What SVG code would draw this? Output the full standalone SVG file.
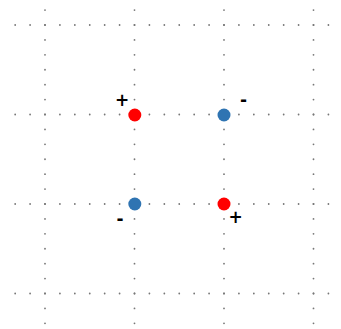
<svg xmlns="http://www.w3.org/2000/svg" width="341" height="329" viewBox="0 0 341 329">
<style>
.grid line{stroke:#777;stroke-width:1.8;stroke-linecap:round;stroke-dasharray:0 14.9167;fill:none}
.pos{fill:#ff0000}
.neg{fill:#2f74b2}
.lbl{font-family:"DejaVu Sans",sans-serif;font-size:17px;font-weight:bold;fill:#000;text-anchor:middle}
</style>
<rect width="341" height="329" fill="#fff"/>
<g id="connectors" class="grid">
<line x1="15.17" y1="25" x2="329" y2="25"/>
<line x1="15.17" y1="114.5" x2="329" y2="114.5"/>
<line x1="15.17" y1="204" x2="329" y2="204"/>
<line x1="15.17" y1="293.5" x2="329" y2="293.5"/>
<line x1="45" y1="10.08" x2="45" y2="324"/>
<line x1="134.5" y1="10.08" x2="134.5" y2="324"/>
<line x1="224" y1="10.08" x2="224" y2="324"/>
<line x1="313.5" y1="10.08" x2="313.5" y2="324"/>
</g>
<g id="charge1"><circle class="pos" cx="134.8" cy="115" r="6.5"/><text class="lbl" x="122" y="106">+</text></g>
<g id="charge2"><circle class="neg" cx="224" cy="115" r="6.5"/><text class="lbl" x="243.5" y="106">-</text></g>
<g id="charge3"><circle class="neg" cx="134.8" cy="204" r="6.5"/><text class="lbl" x="120" y="225">-</text></g>
<g id="charge4"><circle class="pos" cx="224" cy="204" r="6.5"/><text class="lbl" x="235.5" y="223">+</text></g>
</svg>
